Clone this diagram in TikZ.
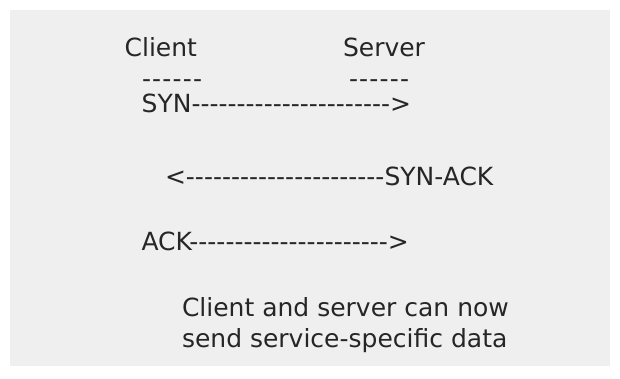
\documentclass[tikz,border=0pt]{standalone}
\usepackage{fontspec}
\setmainfont{DejaVu Sans}
\definecolor{bgpanel}{RGB}{239,239,239}
\definecolor{ink}{RGB}{38,38,38}
\newcommand\dashrun[1]{\foreach \k in {1,...,#1}{-\kern0pt}}
\newcommand\widedashrun[1]{\foreach \k in {1,...,#1}{-\kern1.2pt}}
\begin{document}
\begin{tikzpicture}[x=1pt,y=-1pt,
  txt/.style={font=\fontsize{25}{29}\selectfont, text=ink, inner sep=0pt, outer sep=0pt, anchor=base west}]
\useasboundingbox (0,0) rectangle (620,378);
\fill[white] (0,0) rectangle (620,378);
\fill[bgpanel] (10,10) rectangle (610,366);
\node[txt] (client) at (124.6,56.5) {Client};
\node[txt] (server) at (343,56.5) {Server};
\node[txt] (cdash) at (142,87.5) {\widedashrun{6}};
\node[txt] (sdash) at (349,87.5) {\widedashrun{6}};
\node[txt] (syn) at (141.7,112) {SYN\dashrun{22}>};
\node[txt] (synack) at (165,185.7) {<\dashrun{22}SYN-ACK};
\node[txt] (ack) at (141.5,250.7) {ACK\dashrun{22}>};
\node[txt] (note1) at (182,316) {Client and server can now};
\node[txt] (note2) at (182,347.7) {send service-specific data};
\end{tikzpicture}
\end{document}
